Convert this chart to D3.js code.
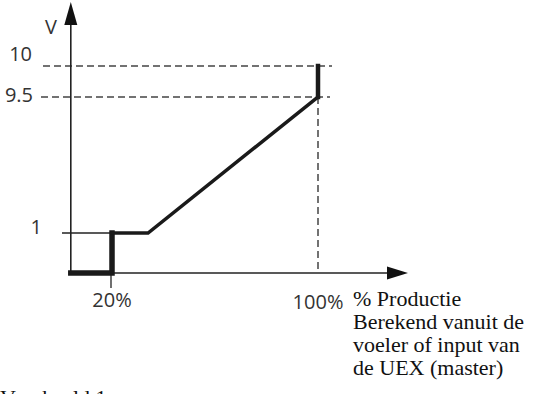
<!DOCTYPE html>
<html>
<head>
<meta charset="utf-8">
<script src="https://cdn.jsdelivr.net/npm/d3@7"></script>
<style>
  body { margin: 0; background: #fff; }
  .lbl { font-family: "Open Sans", sans-serif; font-size: 20px; fill: #333; }
  .note { font-family: "Liberation Serif", "Times New Roman", serif; font-size: 22px; fill: #111; }
</style>
</head>
<body>
<div id="chart"></div>
<script>
// data
var curveX = [4, 20, 20, 34, 100, 100];
var curveY = [0, 0, 1, 1, 9.5, 10];
var yTicks = [1, 9.5, 10];
var yTickLabels = ["1", "9.5", "10"];
var xTicks = [20, 100];
var xTickLabels = ["20%", "100%"];
var axisNote = ["% Productie", "Berekend vanuit de", "voeler of input van", "de UEX (master)"];
var caption = "Voorbeeld 1";

var width = 539, height = 394;

var svg = d3.select("#chart")
  .append("svg")
    .attr("width", width)
    .attr("height", height);

// schematic scales (y is piecewise, like the drawing)
var x = d3.scaleLinear()
  .domain([0, 100])
  .range([60.5, 318]);
var y = d3.scaleLinear()
  .domain([0, 1, 9.5, 10])
  .range([273, 233, 97, 66]);

var x0 = x(4), y0 = y(0);

// dashed guides for 10 and 9.5
svg.append("line")
  .attr("x1", 43).attr("x2", 332)
  .attr("y1", y(10)).attr("y2", y(10))
  .attr("stroke", "#444").attr("stroke-width", 1.5)
  .attr("stroke-dasharray", "7,4");
svg.append("line")
  .attr("x1", 41).attr("x2", 330)
  .attr("y1", y(9.5)).attr("y2", y(9.5))
  .attr("stroke", "#444").attr("stroke-width", 1.5)
  .attr("stroke-dasharray", "7,4");
svg.append("line")
  .attr("x1", x(100)).attr("x2", x(100))
  .attr("y1", y(9.5)).attr("y2", y0)
  .attr("stroke", "#444").attr("stroke-width", 1.5)
  .attr("stroke-dasharray", "7,4");

// axes
svg.append("line")
  .attr("x1", x0).attr("x2", x0)
  .attr("y1", 22).attr("y2", y0 + 2)
  .attr("stroke", "#222").attr("stroke-width", 1.6);
svg.append("line")
  .attr("x1", x0).attr("x2", 390)
  .attr("y1", y0).attr("y2", y0)
  .attr("stroke", "#222").attr("stroke-width", 1.6);
svg.append("path")
  .attr("d", "M" + x0 + ",2 L" + (x0 - 6.5) + ",25 L" + (x0 + 6.5) + ",25 Z")
  .attr("fill", "#111");
svg.append("path")
  .attr("d", "M408," + y0 + " L387," + (y0 - 6.5) + " L387," + (y0 + 6.5) + " Z")
  .attr("fill", "#111");

// tick marks for 1 and 20%
svg.append("line")
  .attr("x1", 62).attr("x2", x(20))
  .attr("y1", y(1)).attr("y2", y(1))
  .attr("stroke", "#222").attr("stroke-width", 1.3);
svg.append("line")
  .attr("x1", x(20) - 1).attr("x2", x(20) - 1)
  .attr("y1", y0).attr("y2", y0 + 15)
  .attr("stroke", "#222").attr("stroke-width", 1.3);

// the curve
var pts = curveX.map(function(d, i) { return [x(d), y(curveY[i])]; });
var line = d3.line();
function seg(a, b, w) {
  svg.append("path")
    .attr("d", line(pts.slice(a, b + 1)))
    .attr("fill", "none")
    .attr("stroke", "#1a1a1a")
    .attr("stroke-width", w)
    .attr("stroke-linejoin", "miter")
    .attr("stroke-linecap", "square");
}
seg(0, 2, 5.5);
seg(2, 4, 3.5);
seg(4, 5, 4.5);

// labels
svg.append("text").attr("class", "lbl")
  .attr("x", 45).attr("y", 34).text("V");

var yLabelPos = [{x: 42, y: 234}, {x: 33, y: 102}, {x: 32, y: 61}];
yTicks.forEach(function(d, i) {
  svg.append("text").attr("class", "lbl")
    .attr("x", yLabelPos[i].x).attr("y", yLabelPos[i].y)
    .attr("text-anchor", "end")
    .text(yTickLabels[i]);
});

xTicks.forEach(function(d, i) {
  svg.append("text").attr("class", "lbl")
    .attr("x", x(d)).attr("y", i == 0 ? 307 : 309)
    .attr("text-anchor", "middle")
    .text(xTickLabels[i]);
});

axisNote.forEach(function(t, i) {
  svg.append("text").attr("class", "note")
    .attr("x", 353).attr("y", 306 + i * 23)
    .text(t);
});

// caption, mostly cut off by the bottom edge
svg.append("text").attr("class", "note")
  .attr("x", 0).attr("y", 405)
  .text(caption);
</script>
</body>
</html>
